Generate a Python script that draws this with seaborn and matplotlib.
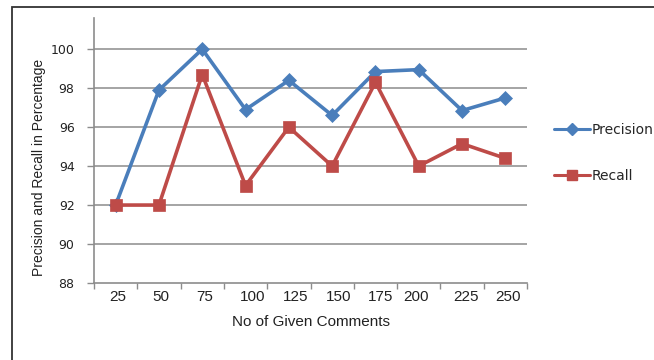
import matplotlib
matplotlib.use("Agg")
import matplotlib.pyplot as plt
from matplotlib.lines import Line2D
from matplotlib.patches import Rectangle
from matplotlib.transforms import ScaledTranslation
import pandas as pd
import seaborn as sns

# Number of given comments (categorical x axis)
comments = ["25", "50", "75", "100", "125", "150", "175", "200", "225", "250"]
# Precision and recall, in percent
precision = [92.0, 97.9, 100.0, 96.9, 98.4, 96.6, 98.85, 98.95, 96.85, 97.5]
recall = [92.0, 92.0, 98.7, 93.0, 96.0, 94.0, 98.3, 94.0, 95.15, 94.4]
y_ticks = [88, 90, 92, 94, 96, 98, 100]

# small horizontal nudges (pixels) of the category labels
label_nudge_px = [2, 2, 2.4, 7, 7, 6, 5.4, -2.3, 3.5, 2.4]

df = pd.DataFrame({
    "comments": comments * 2,
    "value": precision + recall,
    "metric": ["Precision"] * len(comments) + ["Recall"] * len(comments),
})

sns.set_theme(style="white")
plt.rcParams["font.family"] = ["Liberation Sans", "DejaVu Sans"]

blue = "#4A7EBB"
red = "#BE4B48"
grid_c = "#8C8C8C"
text_c = "#222222"

fig = plt.figure(figsize=(6.54, 3.60), dpi=100)
ax = fig.add_axes([94 / 654, 1 - 283 / 360, (527 - 94) / 654, (283 - 18) / 360])

sns.pointplot(
    data=df, x="comments", y="value", hue="metric",
    order=comments, hue_order=["Precision", "Recall"],
    palette={"Precision": blue, "Recall": red},
    markers=["D", "s"], linestyles=["-", "-"],
    errorbar=None, dodge=False, legend=False, ax=ax,
    linewidth=2.6, markersize=7,
)
# square markers are slightly larger than the diamonds
for ln in ax.lines:
    if ln.get_marker() == "s":
        ln.set_markersize(8.5)
    else:
        ln.set_markersize(7)
    ln.set_markeredgewidth(0.5)
    ln.set_solid_joinstyle("miter")

ax.set_xlim(-0.5, len(comments) - 0.5)
ax.set_ylim(88, 101.6)
ax.set_yticks(y_ticks)
ax.set_yticklabels([str(t) for t in y_ticks])

# horizontal gridlines only
for t in y_ticks[1:]:
    ax.axhline(t, color=grid_c, lw=1.1, zorder=0)

# category boundary ticks on the x axis, labels centred on categories
ax.set_xticks([i - 0.5 for i in range(len(comments) + 1)])
ax.set_xticklabels([])
ax.set_xticks(range(len(comments)), minor=True)
ax.set_xticklabels(comments, minor=True)
ax.tick_params(axis="x", which="major", direction="out", length=4,
               width=1, color=grid_c, bottom=True)
ax.tick_params(axis="x", which="minor", length=0, pad=5, labelsize=11,
               labelcolor=text_c)
ax.tick_params(axis="y", direction="out", length=5, width=1, color=grid_c,
               left=True, pad=9, labelsize=9, labelcolor=text_c)
for lab in ax.get_yticklabels():
    lab.set_family("DejaVu Sans")
for lab, dx in zip(ax.get_xticklabels(minor=True), label_nudge_px):
    lab.set_transform(lab.get_transform()
                      + ScaledTranslation(dx / 100, 0, fig.dpi_scale_trans))

for side in ["top", "right"]:
    ax.spines[side].set_visible(False)
for side in ["left", "bottom"]:
    ax.spines[side].set_color(grid_c)
    ax.spines[side].set_linewidth(1.2)

ax.set_xlabel("No of Given Comments", fontsize=11, color=text_c, labelpad=8)
ax.set_ylabel("Precision and Recall in Percentage", fontsize=10,
              color=text_c)
ax.yaxis.set_label_coords(-0.11, 0.435)

handles = [
    Line2D([], [], color=blue, lw=2.2, marker="D", markersize=6),
    Line2D([], [], color=red, lw=2.2, marker="s", markersize=7.5),
]
fig.legend(handles, ["Precision", "Recall"], loc="center left",
           bbox_to_anchor=(554 / 654, 1 - 153 / 360), frameon=False,
           borderpad=0, borderaxespad=0, handlelength=2.6,
           handletextpad=0.1, labelspacing=2.3,
           prop={"family": "DejaVu Sans", "size": 10})

# outer chart border
fig.add_artist(Rectangle((11.5 / 654, -0.1), 1.2, (360 - 6.5) / 360 + 0.1,
                         transform=fig.transFigure, fill=False,
                         ec="#333333", lw=1.3))

fig.savefig("out.png", dpi=100)
